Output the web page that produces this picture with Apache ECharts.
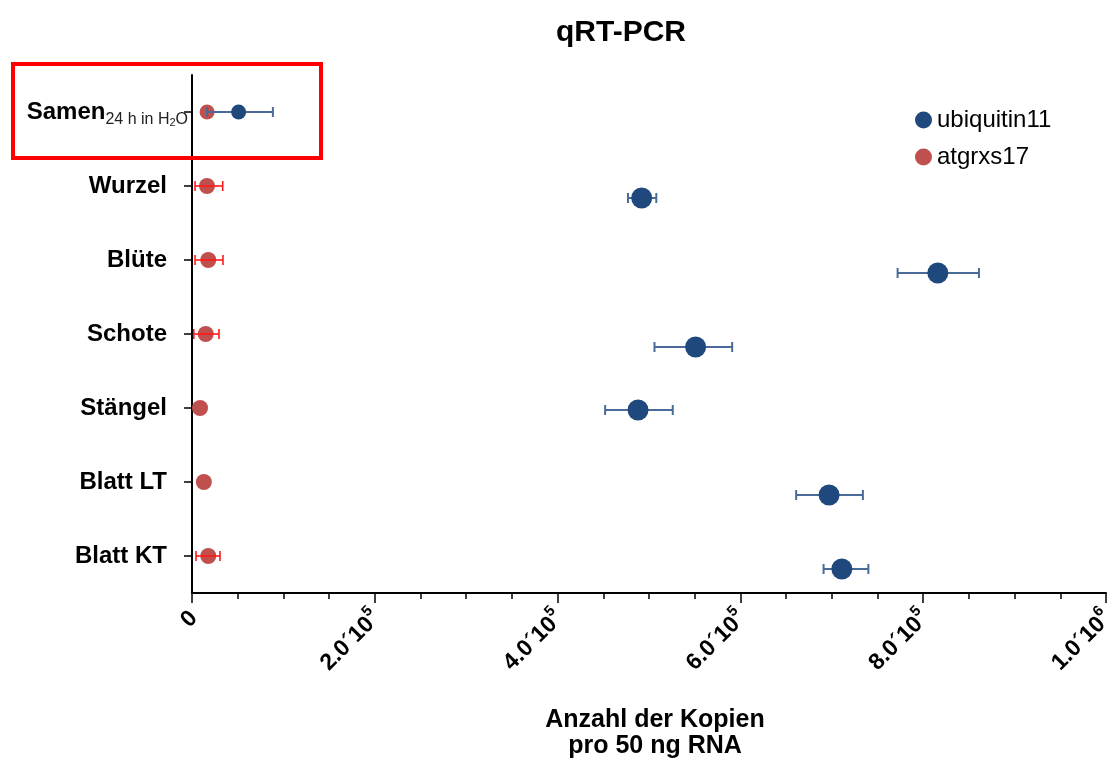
<!DOCTYPE html>
<html>
<head>
<meta charset="utf-8">
<script src="https://cdn.jsdelivr.net/npm/echarts@6/dist/echarts.min.js"></script>
<style>
  html, body { margin: 0; padding: 0; background: #fff; }
  #chart { width: 1113px; height: 763px; }
</style>
</head>
<body>
<div id="chart"></div>
<script>
// tissues, top to bottom
const tissues = ['Samen', 'Wurzel', 'Blüte', 'Schote', 'Stängel', 'Blatt LT', 'Blatt KT'];

// copies per 50 ng RNA
const ubqMean = [51000, 492000, 816000, 551000, 488000, 697000, 711000];
const ubqLow  = [16500, 477000, 772000, 506000, 452000, 661000, 691000];
const ubqHigh = [88500, 508000, 861000, 591000, 526000, 734000, 740000];

const grxMean = [16500, 16400, 17800, 15000, 8800, 13000, 17800];
const grxLow  = [16500, 3300, 3300, 2000, 8800, 13000, 4400];
const grxHigh = [16500, 33600, 33900, 29500, 8800, 13000, 30600];

const xTicks = [0, 200000, 400000, 600000, 800000, 1000000];

// pixel drop of the blue dots below each row (style only)
const ubqDrop = [0, 12, 13, 13, 2, 13, 13];

const font = "'Liberation Sans', Arial, sans-serif";
const chart = echarts.init(document.getElementById('chart'));

const errBars = (low, high, drop, color, width) => ({
    type: 'custom',
    silent: true,
    data: tissues.map((t, i) => [low[i], high[i], i]),
    encode: { x: [0, 1], y: 2 },
    renderItem: (params, api) => {
        const i = api.value(2);
        const a = api.coord([api.value(0), i]);
        const b = api.coord([api.value(1), i]);
        if (Math.abs(b[0] - a[0]) < 1) return;
        const y = a[1] + (drop ? drop[i] : 0);
        const cap = 5;
        const st = { stroke: color, lineWidth: width };
        return {
            type: 'group',
            children: [
                { type: 'line', shape: { x1: a[0], y1: y, x2: b[0], y2: y }, style: st },
                { type: 'line', shape: { x1: a[0], y1: y - cap, x2: a[0], y2: y + cap }, style: st },
                { type: 'line', shape: { x1: b[0], y1: y - cap, x2: b[0], y2: y + cap }, style: st }
            ]
        };
    }
});

const tickLabel = (v) => {
    if (v === 0) return '{n|0}';
    const e = Math.floor(Math.log10(v) + 1e-9);
    const m = (v / Math.pow(10, e)).toFixed(1);
    return `{n|${m}´10}{sup|${e}}`;
};

const option = {
    animation: false,
    textStyle: { fontFamily: font },
    title: {
        text: 'qRT-PCR',
        left: 616,
        top: 13,
        textAlign: 'center',
        textStyle: { fontSize: 30, fontWeight: 'bold', color: '#000', fontFamily: font }
    },
    legend: {
        data: ['ubiquitin11', 'atgrxs17'],
        orient: 'vertical',
        left: 910,
        top: 103,
        icon: 'circle',
        itemWidth: 17,
        itemHeight: 17,
        itemGap: 13,
        textStyle: { fontSize: 24, color: '#000', fontFamily: font }
    },
    grid: { left: 192, right: 7, top: 75, bottom: 170, outerBoundsMode: 'none', containLabel: false },
    xAxis: {
        type: 'value',
        min: 0,
        max: 1000000,
        interval: 200000,
        splitLine: { show: false },
        axisLine: { show: true, lineStyle: { color: '#000', width: 2 } },
        axisTick: { show: true, length: 10, lineStyle: { color: '#000', width: 1.5 } },
        minorTick: { show: true, splitNumber: 4, length: 6, lineStyle: { color: '#000', width: 1.5 } },
        axisLabel: {
            rotate: 45,
            margin: 20,
            formatter: tickLabel,
            rich: {
                n: { fontSize: 23, fontWeight: 'bold', color: '#000', fontFamily: font, lineHeight: 28, verticalAlign: 'bottom' },
                sup: { fontSize: 15, fontWeight: 'bold', color: '#000', fontFamily: font, lineHeight: 28, verticalAlign: 'top' }
            }
        },
        name: 'Anzahl der Kopien\npro 50 ng RNA',
        nameLocation: 'middle',
        nameGap: 114,
        nameTextStyle: {
            fontSize: 25, fontWeight: 'bold', color: '#000', lineHeight: 26,
            fontFamily: font, padding: [0, 0, 0, 12]
        }
    },
    yAxis: {
        type: 'category',
        data: tissues,
        inverse: true,
        boundaryGap: true,
        axisLine: { show: true, lineStyle: { color: '#000', width: 2 } },
        axisTick: { show: true, alignWithLabel: true, length: 8, lineStyle: { color: '#000', width: 1.5 } },
        splitLine: { show: false },
        axisLabel: {
            margin: 4,
            formatter: (v, i) => i === 0
                ? '{b|Samen}{s|24 h in H}{t|2}{s|O}'
                : `{c|${v}}`,
            rich: {
                b: { fontSize: 24, fontWeight: 'bold', color: '#000', fontFamily: font, lineHeight: 32, verticalAlign: 'middle' },
                s: { fontSize: 16, color: '#222', fontFamily: font, lineHeight: 32, verticalAlign: 'bottom' },
                t: { fontSize: 11, color: '#222', fontFamily: font, lineHeight: 32, verticalAlign: 'bottom' },
                c: { fontSize: 24, fontWeight: 'bold', color: '#000', fontFamily: font, padding: [0, 21, 0, 0] }
            }
        }
    },
    graphic: [{
        type: 'rect',
        shape: { x: 13, y: 64, width: 308, height: 94 },
        style: { fill: 'none', stroke: '#ff0000', lineWidth: 4 },
        z: 100
    }],
    series: [
        {
            name: 'atgrxs17',
            type: 'scatter',
            z: 1,
            symbolSize: (v, p) => p.dataIndex === 0 ? 15 : 16,
            itemStyle: { color: '#c0504d', opacity: 1 },
            data: tissues.map((t, i) => [grxMean[i], i])
        },
        Object.assign(errBars(grxLow, grxHigh, null, '#ff1a1a', 1.6), { z: 2, name: 'grxErr' }),
        Object.assign(errBars(ubqLow, ubqHigh, ubqDrop, '#4a6a9a', 2), { z: 3, name: 'ubqErr' }),
        {
            name: 'ubiquitin11',
            type: 'scatter',
            z: 4,
            symbolSize: (v, p) => p.dataIndex === 0 ? 15 : 21,
            itemStyle: { color: '#1f497d', opacity: 1 },
            data: tissues.map((t, i) => ({ value: [ubqMean[i], i], symbolOffset: [0, ubqDrop[i]] }))
        }
    ]
};

chart.setOption(option);
</script>
</body>
</html>
